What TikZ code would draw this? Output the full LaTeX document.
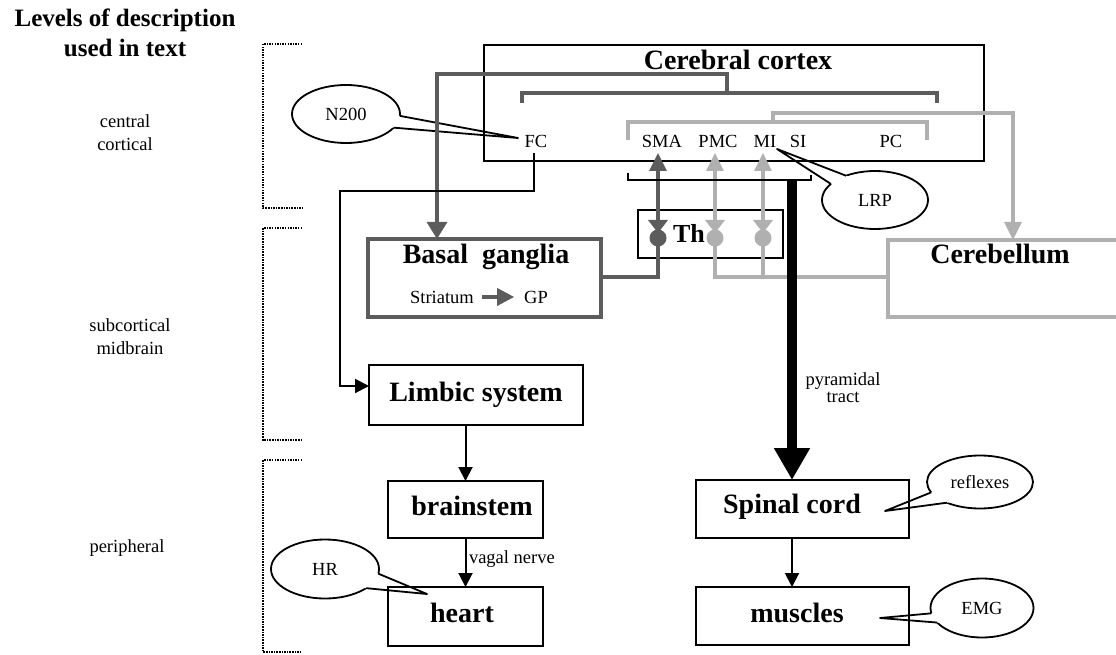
\documentclass[tikz,border=0pt]{standalone}
\usepackage{fontspec}
\setmainfont{Liberation Serif}
\usetikzlibrary{arrows.meta,shapes.geometric,calc}
\definecolor{gdark}{HTML}{5C5C5C}
\definecolor{glight}{HTML}{B0B0B0}
% speech-bubble pointer: node, tip coordinate, two border angles
\newcommand{\calloutwedge}[4]{%
  \fill[white] ($(#2)!1.25!(#1.#3)$) -- (#2) -- ($(#2)!1.25!(#1.#4)$) -- cycle;
  \draw[line width=1.8pt, line join=round] (#1.#3) -- (#2) -- (#1.#4);}
% synapse symbol inside the thalamus: x, top y, colour
\newcommand{\synapsemark}[3]{%
  \fill[#3] (#1-10,#2) -- (#1+10,#2) -- (#1,#2+13) -- cycle;
  \fill[#3] (#1,#2+18) circle (8.5);}
\begin{document}
\begin{tikzpicture}[x=1pt,y=-1pt,
  every node/.style={inner sep=0pt, outer sep=0pt},
  small/.style={font=\fontsize{18.5}{21}\selectfont},
  big/.style={font=\fontsize{28}{30}\selectfont\bfseries},
  head/.style={font=\fontsize{25}{28}\selectfont\bfseries},
  box/.style={draw=black, line width=2.4pt},
  gbox/.style={draw=#1, line width=3.4pt},
  wire/.style={draw=black, line width=2pt},
  gdk/.style={draw=gdark, line width=3.2pt},
  glt/.style={draw=glight, line width=3.2pt},
  bubble/.style={ellipse, draw=black, line width=1.8pt, fill=white,
                 font=\fontsize{18.5}{21}\selectfont},
  tipblk/.style={-{Triangle[length=14pt,width=14pt]}},
  tipg/.style={-{Triangle[length=18pt,width=17pt]}},
  levelbar/.style={draw=black, line width=2pt, dash pattern=on 1.5pt off 1.1pt},
]
\useasboundingbox (0,0) rectangle (1116,655);
\clip (0,0) rectangle (1116,655);

% ---- headline and level labels
\node[head, anchor=base] (hd1) at (125,27) {Levels of description};
\node[head, anchor=base] (hd2) at (125,57) {used in text};
\node[small, anchor=base] (lv1a) at (125,128) {central};
\node[small, anchor=base] (lv1b) at (125,151) {cortical};
\node[small, anchor=base] (lv2a) at (130,331) {subcortical};
\node[small, anchor=base] (lv2b) at (130,354) {midbrain};
\node[small, anchor=base] (lv3) at (127,552) {peripheral};

\draw[levelbar] (302,44) -- (263,44) -- (263,208) -- (302,208);
\draw[levelbar] (302,228) -- (263,228) -- (263,440) -- (302,440);
\draw[levelbar] (302,460) -- (263,460) -- (263,652) -- (302,652);

% ---- measurement bubbles
\node[bubble, minimum width=108pt, minimum height=58pt] (n200) at (346,114) {N200};
\coordinate (n200tip) at (518,138);
\calloutwedge{n200}{n200tip}{-2}{-16}

\node[bubble, minimum width=106pt, minimum height=58pt] (lrp) at (875,200) {LRP};
\coordinate (lrptip) at (777,149);
\calloutwedge{lrp}{lrptip}{160}{140}

\node[bubble, minimum width=108pt, minimum height=59pt] (hr) at (325,569) {HR};
\coordinate (hrtip) at (427,594);
\calloutwedge{hr}{hrtip}{-5}{-25}

\node[bubble, minimum width=106pt, minimum height=53pt] (refl) at (980,482) {reflexes};
\coordinate (refltip) at (885,511);
\calloutwedge{refl}{refltip}{192}{212}

\node[bubble, minimum width=103pt, minimum height=59pt] (emg) at (982,608) {EMG};
\coordinate (emgtip) at (880,618);
\calloutwedge{emg}{emgtip}{186}{198}

% ---- boxes
\node[box, minimum width=500pt, minimum height=116pt] (cortex) at (734,103) {};
\node[box, minimum width=145pt, minimum height=48pt] (th) at (710.5,234) {};
\node[gbox=gdark, minimum width=233pt, minimum height=78pt] (bg) at (484.5,278) {};
\node[gbox=glight, minimum width=242pt, minimum height=77pt] (cb) at (1009,278.5) {};
\node[box, minimum width=214pt, minimum height=60pt] (limbic) at (476,395) {};
\node[box, minimum width=155pt, minimum height=57pt] (brainstem) at (465.5,509.5) {};
\node[box, minimum width=155pt, minimum height=59pt] (heart) at (465.5,616.5) {};
\node[box, minimum width=213pt, minimum height=58pt] (spinal) at (802.5,509) {};
\node[box, minimum width=213pt, minimum height=58pt] (muscles) at (802.5,616) {};

% ---- box titles
\node[big, anchor=base] (tcortex) at (738,70) {Cerebral cortex};
\node[big, anchor=base] (tbg) at (486,263) {Basal\hspace{0.5em}ganglia};
\node[small, anchor=base] (striatum) at (442,303) {Striatum};
\node[small, anchor=base] (gp) at (536,303) {GP};
\node[big, font=\fontsize{26}{28}\selectfont\bfseries, anchor=base] (tth) at (689,242) {Th};
\node[big, anchor=base] (tcb) at (1000,263) {Cerebellum};
\node[big, anchor=base] (tlimbic) at (476,401) {Limbic system};
\node[big, anchor=base] (tbrain) at (472,515) {brainstem};
\node[big, anchor=base] (theart) at (462,622) {heart};
\node[big, anchor=base] (tspinal) at (792,513) {Spinal cord};
\node[big, anchor=base] (tmuscles) at (797,622) {muscles};

% ---- cortical areas
\node[small, anchor=base] (fc) at (536,148) {FC};
\node[small, anchor=base] (sma) at (662,148) {SMA};
\node[small, anchor=base] (pmc) at (718,148) {PMC};
\node[small, anchor=base] (mi) at (765,148) {MI};
\node[small, anchor=base] (si) at (798,148) {SI};
\node[small, anchor=base] (pc) at (891,148) {PC};

% ---- basal ganglia loop (dark grey)
\coordinate (yloop) at (0,277);
\coordinate (cS) at (658,153);
\coordinate (cP) at (715,153);
\coordinate (cM) at (763,153);
\coordinate (bgin) at (437,74);
\draw[gdk] (522,103) -- (522,93) -- (937,93) -- (937,103);
\draw[gdk, -{Triangle[length=17pt,width=20pt]}] (727,93) -- (727,74) -- (bgin) -- (bgin |- bg.north);
\draw[gdk, tipg] (bg.east |- yloop) -| (cS);
\draw[gdark, line width=3.5pt, -{Triangle[length=17pt,width=17pt]}]
  ([xshift=8pt]striatum.east) -- ([xshift=-10pt]gp.west);

% ---- cerebellar loop (light grey)
\coordinate (cbin) at (1013,113);
\draw[glt] (628,140) -- (628,122) -- (927,122) -- (927,140);
\draw[glt, tipg] (773,122) -- (773,113) -- (cbin) -- (cbin |- cb.north);
\draw[glt, tipg] (cb.west |- yloop) -| (cP);
\draw[glt, tipg] (cM |- yloop) -- (cM);

% ---- thalamic relays
\synapsemark{658}{220}{gdark}
\synapsemark{715}{220}{glight}
\synapsemark{763}{220}{glight}

% ---- pyramidal tract
\coordinate (pyrtop) at (792,180);
\draw[line width=2.4pt] (628,173) -- (628,180) -- (811,180) -- (811,175);
\draw[line width=9.5pt, -{Triangle[length=32pt,width=34pt]}] (pyrtop) -- (pyrtop |- spinal.north);
\node[small, anchor=base] (pyr1) at (843,385) {pyramidal};
\node[small, anchor=base] (pyr2) at (843,402) {tract};

% ---- frontal cortex to limbic system and periphery
\coordinate (fcdrop) at (534,153);
\coordinate (limin) at (340,386);
\draw[wire, tipblk] (fcdrop) |- (340,191) -- (limin) -- (limin -| limbic.west);
\draw[wire, tipblk] (limbic.south -| brainstem.north) -- (brainstem.north);
\draw[wire, tipblk] (brainstem.south) -- (heart.north);
\node[small, anchor=base west] (vagal) at (469,563) {vagal nerve};
\draw[wire, tipblk] (pyrtop |- spinal.south) -- (pyrtop |- muscles.north);
\end{tikzpicture}
\end{document}
